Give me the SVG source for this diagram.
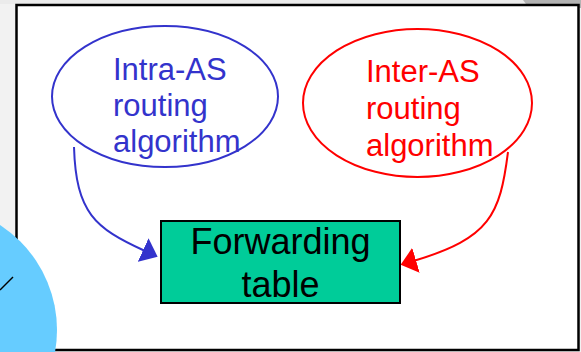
<svg xmlns="http://www.w3.org/2000/svg" width="581" height="352" viewBox="0 0 581 352">
  <style>
    .blue { fill: none; stroke: #3333cc; stroke-width: 2; }
    .red { fill: none; stroke: #ff0000; stroke-width: 2; }
    .tb { font-family: "Liberation Sans", Arial, sans-serif; font-size: 31px; fill: #3333cc; }
    .tr { font-family: "Liberation Sans", Arial, sans-serif; font-size: 31px; fill: #ff0000; }
    .tk { font-family: "Liberation Sans", Arial, sans-serif; font-size: 36px; fill: #000000; text-anchor: middle; }
  </style>
  <defs>
    <marker id="arrowBlue" markerUnits="userSpaceOnUse" markerWidth="16" markerHeight="26" viewBox="0 0 16 26" refX="1" refY="13" orient="auto">
      <path d="M0,0 L16,13 L0,26 Z" fill="#3333cc"/>
    </marker>
    <marker id="arrowRed" markerUnits="userSpaceOnUse" markerWidth="16" markerHeight="26" viewBox="0 0 16 26" refX="1" refY="13" orient="auto">
      <path d="M0,0 L16,13 L0,26 Z" fill="#ff0000"/>
    </marker>
  </defs>

  <g id="background">
    <rect x="0" y="0" width="581" height="352" fill="#f2f2f2"/>
    <rect x="0" y="0" width="581" height="4" fill="#ebebeb"/>
    <polygon points="523,0 581,0 581,8 529,8" fill="#b3b3b3"/>
    <rect x="16.5" y="5" width="562" height="345" fill="#ffffff" stroke="#000000" stroke-width="2.5"/>
  </g>

  <g id="intra-as">
    <ellipse cx="165" cy="96.5" rx="113" ry="70.5" class="blue"/>
    <text class="tb" x="113" y="80">Intra-AS</text>
    <text class="tb" x="113" y="116">routing</text>
    <text class="tb" x="113" y="152">algorithm</text>
  </g>

  <g id="inter-as">
    <ellipse cx="417.5" cy="103" rx="114.5" ry="74" class="red"/>
    <text class="tr" x="366" y="82">Inter-AS</text>
    <text class="tr" x="366" y="119">routing</text>
    <text class="tr" x="366" y="156">algorithm</text>
  </g>

  <g id="forwarding-table">
    <rect x="161" y="221" width="239" height="82" fill="#00cc99" stroke="#000000" stroke-width="2"/>
    <text class="tk" x="280.5" y="254">Forwarding</text>
    <text class="tk" x="280.5" y="297">table</text>
  </g>

  <g id="connectors">
    <path class="blue" d="M74,147 C76,213 95,228 144,250.5" marker-end="url(#arrowBlue)"/>
    <path class="red" d="M508,152 C500,215 490,238 415,260.5" marker-end="url(#arrowRed)"/>
  </g>

  <g id="decoration">
    <circle cx="-68" cy="330" r="125" fill="#66ccff"/>
    <line x1="0" y1="290" x2="13" y2="277" stroke="#000000" stroke-width="1.5"/>
  </g>
</svg>
